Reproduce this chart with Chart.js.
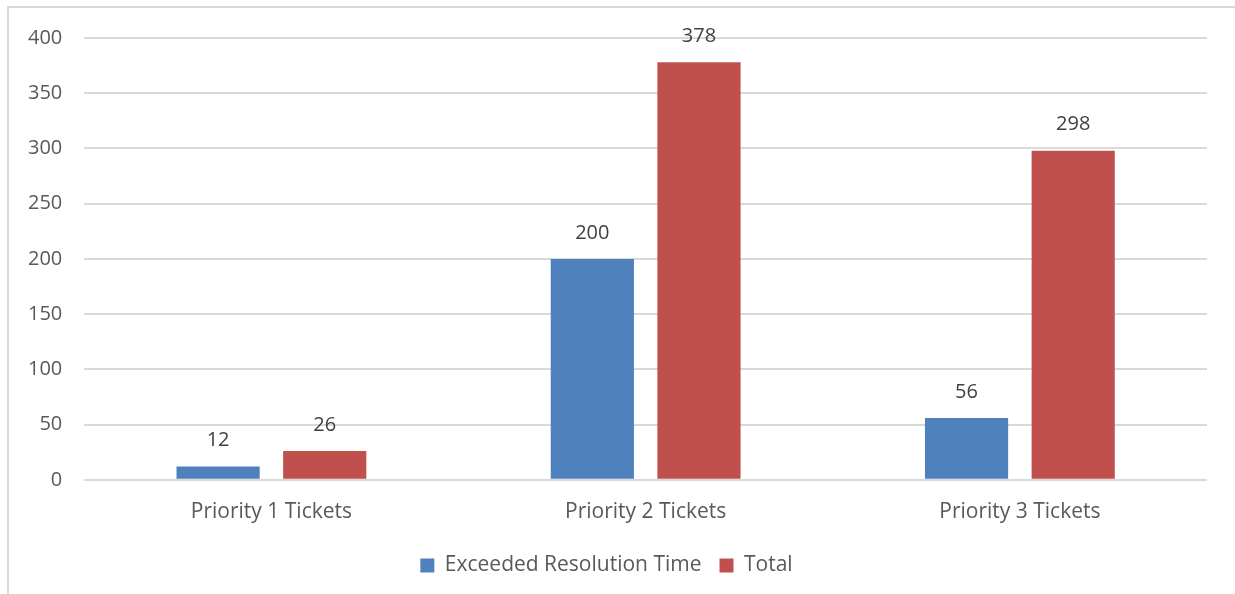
<!DOCTYPE html>
<html><head><meta charset="utf-8">
<script src="https://cdn.jsdelivr.net/npm/chart.js@4/dist/chart.umd.min.js"></script>
<style>html,body{margin:0;padding:0;background:#fff;}#wrap{position:absolute;left:0;top:0;width:1235px;height:594px;}</style>
</head><body><div id="wrap"><canvas id="c" width="1235" height="594"></canvas></div>
<script>
const categories = ["Priority 1 Tickets", "Priority 2 Tickets", "Priority 3 Tickets"];
const exceededValues = [12, 200, 56];
const totalValues = [26, 378, 298];
const seriesNames = ["Exceeded Resolution Time", "Total"];
const yTicks = [0, 50, 100, 150, 200, 250, 300, 350, 400];

const FONT = "'Open Sans', 'Noto Sans', sans-serif";
const TXT = "#595959";
const FS = 20;

const frame = {
  id: 'frame',
  beforeDraw(chart) {
    const ctx = chart.ctx;
    ctx.save();
    ctx.fillStyle = '#fff';
    ctx.fillRect(0, 0, chart.width, chart.height);
    ctx.fillStyle = '#d9d9d9';
    ctx.fillRect(7, 6, chart.width - 7, 2);
    ctx.fillRect(7, 6, 2, chart.height - 6);
    ctx.restore();
  }
};
const valueLabels = {
  id: 'valueLabels',
  afterDatasetsDraw(chart) {
    const ctx = chart.ctx;
    ctx.save();
    ctx.font = FS + "px " + FONT;
    ctx.fillStyle = "#404040";
    ctx.textAlign = 'center';
    ctx.textBaseline = 'middle';
    chart.data.datasets.forEach((ds, i) => {
      chart.getDatasetMeta(i).data.forEach((bar, j) => {
        ctx.fillText(String(ds.data[j]), bar.x, bar.y - 26);
      });
    });
    ctx.restore();
  }
};

new Chart(document.getElementById('c'), {
  type: 'bar',
  data: {
    labels: categories,
    datasets: [
      { label: seriesNames[0], data: exceededValues, backgroundColor: '#4f81bd', categoryPercentage: 0.57, barPercentage: 0.78 },
      { label: seriesNames[1], data: totalValues, backgroundColor: '#c0504d', categoryPercentage: 0.57, barPercentage: 0.78 }
    ]
  },
  options: {
    responsive: false,
    animation: false,
    devicePixelRatio: 1,
    layout: { padding: { top: 38, right: 28, left: 6, bottom: 8 } },
    plugins: {
      legend: {
        position: 'bottom',
        labels: { font: { family: FONT, size: 21 }, color: TXT, boxWidth: 14, boxHeight: 14, padding: 18 }
      },
      tooltip: { enabled: false }
    },
    scales: {
      x: {
        grid: { display: false },
        border: { display: false },
        ticks: { font: { family: FONT, size: 21 }, color: TXT, padding: 12 }
      },
      y: {
        min: 0, max: 400,
        afterBuildTicks(axis) { axis.ticks = yTicks.map(v => ({ value: v })); },
        grid: { color: '#d9d9d9', lineWidth: 2, drawTicks: false },
        border: { display: false },
        ticks: { font: { family: FONT, size: FS }, color: TXT, padding: 22 }
      }
    }
  },
  plugins: [frame, valueLabels]
});
</script></body></html>
